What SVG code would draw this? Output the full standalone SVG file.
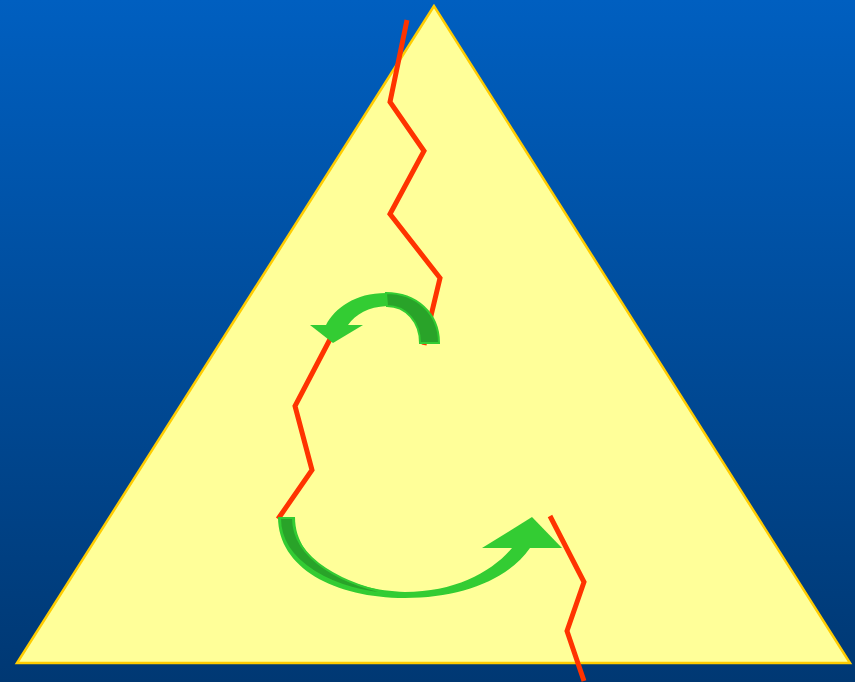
<svg xmlns="http://www.w3.org/2000/svg" width="855" height="682" viewBox="0 0 855 682">
<defs>
<linearGradient id="bg" x1="0" y1="0" x2="0" y2="1">
<stop offset="0" stop-color="#005FC0"/>
<stop offset="1" stop-color="#003873"/>
</linearGradient>
</defs>
<style>
.crack{fill:none;stroke:#FF3300;stroke-width:5;stroke-linejoin:miter}
.light{fill:#33CC33}
.dark{fill:#29A329;stroke:#33CC33;stroke-width:2}
</style>
<rect width="855" height="682" fill="url(#bg)"/>
<g id="triangle">
<polygon points="434,6 17,663 850,663" fill="#FFFF99" stroke="#FFCC00" stroke-width="2.5"/>
</g>
<g id="connectors">
<polyline class="crack" points="407,20 390,102 424,151 390,214 440,278 424,345"/>
<polyline class="crack" points="338,324 295,406 312,470 278,519"/>
<polyline class="crack" points="550,516 584,582 567,631 584,681"/>
</g>
<g id="arrow-top">
<path class="light" d="M386,293 C355,293 335,308 326,325 L348,325 C356,314 368,307 387,306 Z"/>
<polygon class="light" points="310,325 363,325 333,343"/>
<path class="dark" d="M386,293 C416,293 439,313 439,343 L420,343 C420,322 406,306 387,306 Z"/>
</g>
<g id="arrow-bottom">
<path class="light" d="M278,517 C278,568 335,598 405,598 C460,598 508,580 530,548 L512,548 C492,572 455,592 405,592 C350,590 295,565 295,517 Z"/>
<path class="dark" d="M280,518 C280,562 332,591 398,595 C345,586 293,560 293,518 Z"/>
<polygon class="light" points="482,548 562,548 532,517"/>
</g>
</svg>
